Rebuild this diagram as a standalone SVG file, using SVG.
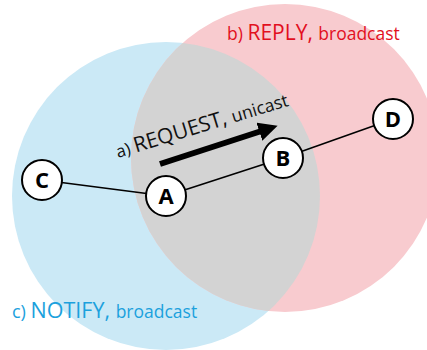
<svg xmlns="http://www.w3.org/2000/svg" width="427" height="350" viewBox="0 0 427 350">
<defs>
<clipPath id="redClip"><circle cx="285" cy="158" r="154"/></clipPath>
<marker id="ah" viewBox="0 0 10 10" refX="2" refY="5" markerWidth="3.2" markerHeight="3.2" orient="auto" markerUnits="strokeWidth"><path d="M0,0 L10,5 L0,10 z" fill="#000"/></marker>
</defs>
<style>
.node circle{fill:#fff;stroke:#000;stroke-width:2}
.node text{font-family:"Open Sans","Liberation Sans",sans-serif;font-weight:bold;font-size:22px;text-anchor:middle;fill:#000}
.edge{stroke:#000;stroke-width:1.6;fill:none}
.lbl{font-family:"Open Sans","Liberation Sans",sans-serif}
</style>
<g id="areas">
<circle cx="166" cy="196" r="154" fill="#cbe9f6"/>
<circle cx="285" cy="158" r="154" fill="#f8cbcf"/>
<circle cx="166" cy="196" r="154" fill="#d3d3d3" clip-path="url(#redClip)"/>
</g>
<g id="connectors">
<line class="edge" x1="42" y1="180" x2="166" y2="196"/>
<line class="edge" x1="166" y1="196" x2="283" y2="158"/>
<line class="edge" x1="283" y1="158" x2="393" y2="119"/>
<line x1="160" y1="164" x2="263" y2="130.5" stroke="#000" stroke-width="6" marker-end="url(#ah)"/>
</g>
<g id="node-C" class="node"><circle cx="42" cy="180" r="20"/><text x="42" y="188">C</text></g>
<g id="node-A" class="node"><circle cx="166" cy="196" r="20"/><text x="166" y="204">A</text></g>
<g id="node-B" class="node"><circle cx="283" cy="158" r="20"/><text x="283" y="166">B</text></g>
<g id="node-D" class="node"><circle cx="393" cy="119" r="20"/><text x="393" y="127">D</text></g>
<g id="labels">
<text class="lbl" transform="translate(118,158) rotate(-17)" fill="#111"><tspan font-size="17">a) </tspan><tspan font-size="21">REQUEST, </tspan><tspan font-size="17.5">unicast</tspan></text>
<text class="lbl" x="227" y="40" fill="#e2101e"><tspan font-size="17.5">b) </tspan><tspan font-size="21">REPLY, </tspan><tspan font-size="17.5">broadcast</tspan></text>
<text class="lbl" x="12" y="318" fill="#1ba1dd"><tspan font-size="18">c) </tspan><tspan font-size="21.5">NOTIFY, </tspan><tspan font-size="17.5">broadcast</tspan></text>
</g>
</svg>
